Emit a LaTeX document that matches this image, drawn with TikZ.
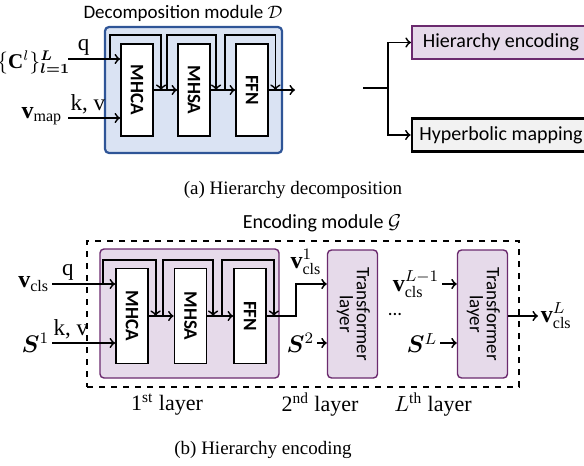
\documentclass[tikz,border=0pt]{standalone}
\usepackage{amsmath}
\usepackage{amssymb}
\usepackage{bm}
\usepackage{graphicx}
\usepackage{fontspec}
\setmainfont{Liberation Serif}
\setsansfont{Carlito}
\usepackage{tikz}
\usetikzlibrary{calc}
\usetikzlibrary{positioning}
\usetikzlibrary{arrows}

\definecolor{decfill}{HTML}{DAE3F3}
\definecolor{decline}{HTML}{2F5597}
\definecolor{encfill}{HTML}{E6DAEA}
\definecolor{encline}{HTML}{6B2A6E}
\definecolor{mapfill}{HTML}{F2F2F2}

\begin{document}
\begin{tikzpicture}[x=0.5pt, y=-0.5pt, line width=0.9pt,
		serif/.style={font=\fontsize{9.5}{11}\selectfont},
		iolab/.style={font=\fontsize{11.5}{13}\selectfont, inner sep=1.5pt},
		mlab/.style={font=\fontsize{12}{14}\selectfont, inner sep=1pt},
		laylab/.style={font=\fontsize{11}{13}\selectfont},
		sans/.style={font=\sffamily\fontsize{9.5}{11}\selectfont},
		blk/.style={draw, fill=white, minimum width=16pt, minimum height=46pt, inner sep=0pt, font=\sffamily\bfseries\fontsize{9.5}{10}\selectfont},
		decbox/.style={draw=decline, fill=decfill, line width=1.1pt, rounded corners=2pt, inner sep=0pt},
		laybox/.style={draw=encline, fill=encfill, line width=0.7pt, rounded corners=2pt, inner sep=0pt},
		tfbox/.style={laybox, minimum width=25pt, minimum height=64pt, font=\sffamily\fontsize{9.5}{10.5}\selectfont},
		outbox/.style={minimum width=89pt, minimum height=16.5pt, inner sep=0pt, font=\sffamily\fontsize{10}{12}\selectfont}]
				\useasboundingbox (0,0) rectangle (584,466);
				\clip (0,0) rectangle (584,466);
				
				% (a) decomposition module
				\node[sans] (dtitle) at (183,13) {Decomposition module $\mathcal{D}$};
				\node[decbox, minimum width=88.5pt, minimum height=63pt] (dmod) at (193.5,90) {};
				\node[blk] (mhca1) at (137,90) {\rotatebox{-90}{MHCA}};
				\node[blk] (mhsa1) at (194,90) {\rotatebox{-90}{MHSA}};
				\node[blk] (ffn1) at (252,90) {\rotatebox{-90}{FFN}};
				
				\coordinate (qin1) at (68,59);
				\coordinate (kin1) at (68,118);
				\coordinate (dout) at (295,90);
				\node[left, inner sep=0pt, font=\fontsize{10.5}{12}\selectfont] (cset) at (71,62) {$\{\mathbf{C}^{l}\}_{\bm{l=1}}^{\bm{L}}$};
				\node[mlab, left] (vmap) at (65,116) {$\mathbf{v}_{\mathrm{map}}$};
				
				\draw[->] (qin1) -- (qin1 -| mhca1.west) node[iolab, pos=0.3, above] (qlab1) {q};
				\draw[->] (kin1) -- (kin1 -| mhca1.west) node[iolab, pos=0.38, above] (klab1) {k, v};
				\draw[->] (mhca1) -- (mhsa1);
				\draw[->] (mhsa1) -- (ffn1);
				\draw[->] (ffn1) -- (dout);
				\draw[->] ($(mhca1.west |- qin1)+(-10,0)$) |- ($(mhsa1.west |- mhca1.north)+(-16,-8)$) -- ($(mhsa1.west)+(-16,0)$);
				\draw[->] ($(mhsa1.west)+(-10,0)$) |- ($(ffn1.west |- mhsa1.north)+(-19,-8)$) -- ($(ffn1.west)+(-19,0)$);
				\draw[->] ($(ffn1.west)+(-10,0)$) |- ($(ffn1.east |- ffn1.north)+(6.5,-8)$) -- ($(ffn1.east)+(6.5,0)$);
				
				% outputs of the decomposition
				\coordinate (din) at (363,88);
				\coordinate (jn) at (388,88);
				\node[outbox, draw=encline, fill=encfill, line width=1.1pt] (henc) at (501,42.5) {Hierarchy encoding};
				\node[outbox, draw=black, fill=mapfill, line width=1.4pt] (hmap) at (501,135) {Hyperbolic mapping};
				\draw (din) -- (jn);
				\draw[->] (jn) |- (henc.west);
				\draw[->] (jn) |- (hmap.west);
				
				\node[serif] (capa) at (293,190) {(a) Hierarchy decomposition};
				
				% (b) encoding module
				\node[sans, font=\sffamily\fontsize{10}{12}\selectfont] (etitle) at (322,223) {Encoding module $\mathcal{G}$};
				\node[draw, dashed, line width=0.7pt, minimum width=216pt, minimum height=73pt, inner sep=0pt] (emod) at (303,314) {};
				\node[laybox, minimum width=89.5pt, minimum height=64.5pt] (lay1) at (189.5,313.5) {};
				\node[blk, minimum height=47.5pt] (mhca2) at (132,316) {\rotatebox{-90}{MHCA}};
				\node[blk, minimum height=47.5pt] (mhsa2) at (190.5,316) {\rotatebox{-90}{MHSA}};
				\node[blk, minimum height=47.5pt] (ffn2) at (250,316) {\rotatebox{-90}{FFN}};
				\node[tfbox] (tl2) at (352.5,314) {\rotatebox{-90}{\begin{tabular}{@{}c@{}}Transformer\\[-2pt]layer\end{tabular}}};
				\node[tfbox] (tl3) at (482.5,314) {\rotatebox{-90}{\begin{tabular}{@{}c@{}}Transformer\\[-2pt]layer\end{tabular}}};
				
				\coordinate (qin2) at (52,284);
				\coordinate (kin2) at (52,343);
				\node[mlab, left] (vcls) at (qin2) {$\mathbf{v}_{\mathrm{cls}}$};
				\node[mlab, left] (sone) at (kin2) {$\bm{S}^{1}$};
				
				\draw[->] (qin2) -- (qin2 -| mhca2.west) node[iolab, pos=0.25, above] (qlab2) {q};
				\draw[->] (kin2) -- (kin2 -| mhca2.west) node[iolab, pos=0.3, above] (klab2) {k, v};
				\draw[->] (mhca2) -- (mhsa2);
				\draw[->] (mhsa2) -- (ffn2);
				\draw[->] ($(mhca2.west |- qin2)+(-12,0)$) |- ($(mhsa2.west |- mhca2.north)+(-18,-8)$) -- ($(mhsa2.west)+(-18,0)$);
				\draw[->] ($(mhsa2.west)+(-11,0)$) |- ($(ffn2.west |- mhsa2.north)+(-20,-8)$) -- ($(ffn2.west)+(-20,0)$);
				\draw[->] ($(ffn2.west)+(-11,0)$) |- ($(ffn2.east |- ffn2.north)+(7,-8)$) -- ($(ffn2.east)+(7,0)$);
				\draw[->] (ffn2.east) -- ($(ffn2.east -| tl2.west)+(-31,0)$) |- (tl2.west |- qin2);
				
				\node[mlab] (vone) at (306,262) {$\mathbf{v}_{\mathrm{cls}}^{1}$};
				\node[mlab, left] (stwo) at (317,343) {$\bm{S}^{2}$};
				\draw[->] (stwo) -- (stwo -| tl2.west);
				\node[sans] (dots) at (395,314) {...};
				\node[mlab, left] (vprev) at (442,284) {$\mathbf{v}_{\mathrm{cls}}^{L-1}$};
				\draw[->] (vprev) -- (vprev -| tl3.west);
				\node[mlab, left] (slast) at (440,343) {$\bm{S}^{L}$};
				\draw[->] (slast) -- (slast -| tl3.west);
				\node[mlab, right] (vout) at (538,316) {$\mathbf{v}_{\mathrm{cls}}^{L}$};
				\draw[->] (tl3.east |- vout) -- (vout.west);
				
				\node[laylab] (l1) at (167,405) {1\textsuperscript{st} layer};
				\node[laylab] (l2) at (320,405) {2\textsuperscript{nd} layer};
				\node[laylab] (l3) at (433,405) {$L^{\mathrm{th}}$ layer};
				\node[serif] (capb) at (263,450) {(b) Hierarchy encoding};
			\end{tikzpicture}
\end{document}
